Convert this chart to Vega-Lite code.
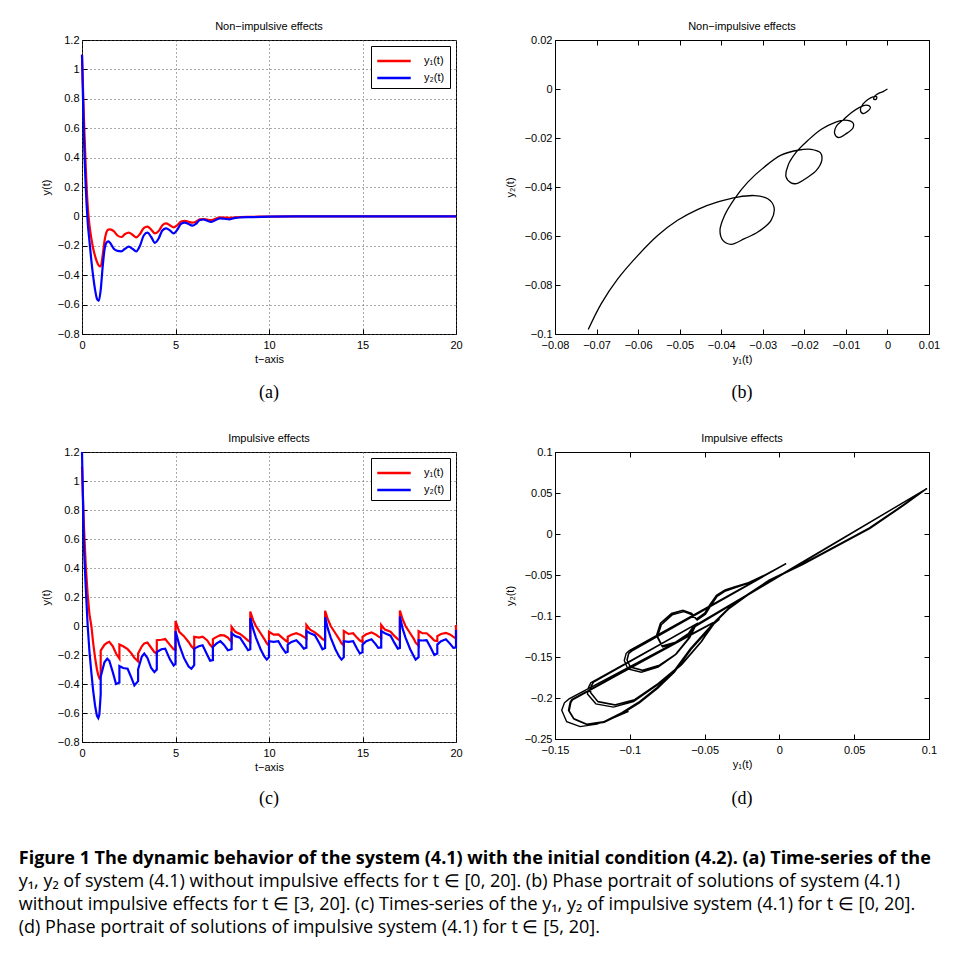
{
  "$schema": "https://vega.github.io/schema/vega-lite/v6.json",
  "background": "white",
  "padding": {"left": 18, "top": 20, "right": 0, "bottom": 0},
  "columns": 2,
  "bounds": "flush",
  "spacing": {"row": 20, "column": 99},
  "resolve": {"scale": {"color": "independent"}},
  "title": {
    "text": ["Figure 1  The dynamic behavior of the system (4.1) with the initial condition (4.2). (a) Time-series of the"],
    "subtitle": ["y₁, y₂ of system (4.1) without impulsive effects for t ∈ [0, 20]. (b) Phase portrait of solutions of system (4.1)", "without impulsive effects for t ∈ [3, 20]. (c) Times-series of the y₁, y₂ of impulsive system (4.1) for t ∈ [0, 20].", "(d) Phase portrait of solutions of impulsive system (4.1) for t ∈ [5, 20]."],
    "orient": "bottom", "anchor": "start", "frame": "bounds", "dx": -21, "offset": 14,
    "font": "Open Sans", "fontSize": 18, "fontWeight": "bold", "color": "black", "lineHeight": 23,
    "subtitleFont": "Open Sans", "subtitleFontSize": 18, "subtitleFontWeight": "normal", "subtitleColor": "black", "subtitleLineHeight": 23, "subtitlePadding": 5
  },
  "config": {
    "view": {"stroke": "black", "strokeWidth": 1},
    "font": "Liberation Sans",
    "axis": {"labelFont": "Liberation Sans", "labelFontSize": 11, "labelColor": "black", "titleFont": "Liberation Sans", "titleFontSize": 11, "titleFontWeight": "normal", "titleColor": "black", "domain": false, "tickColor": "black", "tickSize": -5, "labelPadding": 8, "labelFlush": false, "labelOverlap": false, "labelBound": false, "gridColor": "#555555", "gridDash": [1, 3], "gridOpacity": 1, "titlePadding": 4, "labelExpr": "format(datum.value, '~g')"},
    "axisX": {"labelPadding": 10, "titlePadding": 3},
    "axisY": {"titlePadding": 6},
    "title": {"font": "Liberation Sans", "fontSize": 11, "fontWeight": "normal", "color": "black", "offset": 2},
    "legend": {"orient": "top-right", "offset": 6, "strokeColor": "black", "fillColor": "white", "padding": 5, "labelFont": "Liberation Sans", "labelFontSize": 11, "labelColor": "black", "symbolType": "M-2,0L2,0", "symbolSize": 280, "symbolStrokeWidth": 2.5, "symbolOffset": 8, "labelOffset": 20, "rowPadding": 2, "cornerRadius": 0}
  },
  "concat": [
    {
      "width": 374, "height": 294,
      "title": "Non−impulsive effects",
      "data": {"values": [
        {"i":0,"t":0,"y1":1.1,"y2":1.1},{"i":1,"t":0.1,"y1":0.68,"y2":0.55},{"i":2,"t":0.2,"y1":0.34,"y2":0.2},{"i":3,"t":0.3,"y1":0.08,"y2":-0.03},{"i":4,"t":0.4,"y1":-0.06,"y2":-0.17},{"i":5,"t":0.5,"y1":-0.15,"y2":-0.3},{"i":6,"t":0.6,"y1":-0.22,"y2":-0.41},{"i":7,"t":0.7,"y1":-0.27,"y2":-0.5},{"i":8,"t":0.8,"y1":-0.31,"y2":-0.56},{"i":9,"t":0.9,"y1":-0.335,"y2":-0.575},{"i":10,"t":1.0,"y1":-0.34,"y2":-0.5},{"i":11,"t":1.1,"y1":-0.27,"y2":-0.35},{"i":12,"t":1.2,"y1":-0.17,"y2":-0.23},{"i":13,"t":1.3,"y1":-0.11,"y2":-0.18},{"i":14,"t":1.4,"y1":-0.09,"y2":-0.17},{"i":15,"t":1.5,"y1":-0.088,"y2":-0.18},{"i":16,"t":1.7,"y1":-0.1,"y2":-0.22},{"i":17,"t":1.9,"y1":-0.13,"y2":-0.235},{"i":18,"t":2.1,"y1":-0.14,"y2":-0.238},{"i":19,"t":2.3,"y1":-0.12,"y2":-0.22},{"i":20,"t":2.5,"y1":-0.11,"y2":-0.206},{"i":21,"t":2.7,"y1":-0.125,"y2":-0.22},{"i":22,"t":2.9,"y1":-0.143,"y2":-0.238},{"i":23,"t":3.1,"y1":-0.12,"y2":-0.2},{"i":24,"t":3.3,"y1":-0.08,"y2":-0.13},{"i":25,"t":3.5,"y1":-0.07,"y2":-0.11},{"i":26,"t":3.7,"y1":-0.09,"y2":-0.14},{"i":27,"t":3.9,"y1":-0.115,"y2":-0.18},{"i":28,"t":4.1,"y1":-0.1,"y2":-0.15},{"i":29,"t":4.3,"y1":-0.06,"y2":-0.095},{"i":30,"t":4.5,"y1":-0.048,"y2":-0.082},{"i":31,"t":4.7,"y1":-0.06,"y2":-0.095},{"i":32,"t":4.9,"y1":-0.075,"y2":-0.115},{"i":33,"t":5.1,"y1":-0.06,"y2":-0.09},{"i":34,"t":5.3,"y1":-0.035,"y2":-0.05},{"i":35,"t":5.5,"y1":-0.03,"y2":-0.043},{"i":36,"t":5.7,"y1":-0.036,"y2":-0.052},{"i":37,"t":5.9,"y1":-0.043,"y2":-0.063},{"i":38,"t":6.1,"y1":-0.035,"y2":-0.05},{"i":39,"t":6.3,"y1":-0.02,"y2":-0.025},{"i":40,"t":6.5,"y1":-0.018,"y2":-0.021},{"i":41,"t":6.7,"y1":-0.022,"y2":-0.03},{"i":42,"t":6.9,"y1":-0.025,"y2":-0.038},{"i":43,"t":7.1,"y1":-0.018,"y2":-0.028},{"i":44,"t":7.4,"y1":-0.007,"y2":-0.013},{"i":45,"t":7.6,"y1":-0.008,"y2":-0.016},{"i":46,"t":7.9,"y1":-0.01,"y2":-0.02},{"i":47,"t":8.2,"y1":-0.006,"y2":-0.01},{"i":48,"t":8.5,"y1":-0.004,"y2":-0.007},{"i":49,"t":9,"y1":-0.003,"y2":-0.005},{"i":50,"t":10,"y1":-0.001,"y2":-0.002},{"i":51,"t":12,"y1":0,"y2":0},{"i":52,"t":20,"y1":0,"y2":0}
      ]},
      "transform": [{"fold": ["y1", "y2"], "as": ["s", "v"]}],
      "mark": {"type": "line", "strokeWidth": 2.2, "interpolate": "monotone"},
      "encoding": {
        "x": {"field": "t", "type": "quantitative", "scale": {"domain": [0, 20], "nice": false}, "axis": {"values": [0, 5, 10, 15, 20], "title": "t−axis", "grid": true}},
        "y": {"field": "v", "type": "quantitative", "scale": {"domain": [-0.8, 1.2], "nice": false, "zero": false}, "axis": {"values": [-0.8, -0.6, -0.4, -0.2, 0, 0.2, 0.4, 0.6, 0.8, 1, 1.2], "title": "y(t)", "grid": true}},
        "color": {"field": "s", "type": "nominal", "scale": {"domain": ["y1", "y2"], "range": ["#ff0000", "#0000ff"]}, "legend": {"title": null, "labelExpr": "datum.label == 'y1' ? 'y₁(t)' : 'y₂(t)'"}},
        "order": {"field": "i", "type": "quantitative"}
      }
    },
    {
      "width": 374, "height": 294,
      "title": "Non−impulsive effects",
      "data": {"values": [
        {"i":0,"y1":-0.072,"y2":-0.0982},{"i":1,"y1":-0.0689,"y2":-0.0877},{"i":2,"y1":-0.0649,"y2":-0.0775},{"i":3,"y1":-0.0601,"y2":-0.068},{"i":4,"y1":-0.0553,"y2":-0.0598},{"i":5,"y1":-0.0505,"y2":-0.0536},{"i":6,"y1":-0.0456,"y2":-0.0491},{"i":7,"y1":-0.0408,"y2":-0.0461},{"i":8,"y1":-0.036,"y2":-0.0441},{"i":9,"y1":-0.032,"y2":-0.0435},{"i":10,"y1":-0.0288,"y2":-0.0448},{"i":11,"y1":-0.0273,"y2":-0.0482},{"i":12,"y1":-0.028,"y2":-0.0536},{"i":13,"y1":-0.0312,"y2":-0.0584},{"i":14,"y1":-0.0344,"y2":-0.0611},{"i":15,"y1":-0.0376,"y2":-0.0634},{"i":16,"y1":-0.0396,"y2":-0.0618},{"i":17,"y1":-0.0403,"y2":-0.0577},{"i":18,"y1":-0.0392,"y2":-0.0516},{"i":19,"y1":-0.0368,"y2":-0.0448},{"i":20,"y1":-0.0336,"y2":-0.038},{"i":21,"y1":-0.0296,"y2":-0.0318},{"i":22,"y1":-0.0256,"y2":-0.027},{"i":23,"y1":-0.0216,"y2":-0.025},{"i":24,"y1":-0.0184,"y2":-0.0246},{"i":25,"y1":-0.0161,"y2":-0.0261},{"i":26,"y1":-0.0158,"y2":-0.0291},{"i":27,"y1":-0.0171,"y2":-0.0332},{"i":28,"y1":-0.0191,"y2":-0.0359},{"i":29,"y1":-0.0219,"y2":-0.0386},{"i":30,"y1":-0.0232,"y2":-0.0383},{"i":31,"y1":-0.0244,"y2":-0.0359},{"i":32,"y1":-0.0239,"y2":-0.0311},{"i":33,"y1":-0.0219,"y2":-0.0257},{"i":34,"y1":-0.0191,"y2":-0.0209},{"i":35,"y1":-0.0159,"y2":-0.0164},{"i":36,"y1":-0.0127,"y2":-0.0137},{"i":37,"y1":-0.0103,"y2":-0.0127},{"i":38,"y1":-0.0083,"y2":-0.0138},{"i":39,"y1":-0.0083,"y2":-0.0159},{"i":40,"y1":-0.0099,"y2":-0.0182},{"i":41,"y1":-0.0118,"y2":-0.0198},{"i":42,"y1":-0.0127,"y2":-0.0182},{"i":43,"y1":-0.0123,"y2":-0.0152},{"i":44,"y1":-0.0107,"y2":-0.0127},{"i":45,"y1":-0.0087,"y2":-0.0097},{"i":46,"y1":-0.0067,"y2":-0.0075},{"i":47,"y1":-0.0051,"y2":-0.0066},{"i":48,"y1":-0.0041,"y2":-0.0075},{"i":49,"y1":-0.0047,"y2":-0.009},{"i":50,"y1":-0.0059,"y2":-0.01},{"i":51,"y1":-0.0065,"y2":-0.0086},{"i":52,"y1":-0.0059,"y2":-0.0062},{"i":53,"y1":-0.0047,"y2":-0.0043},{"i":54,"y1":-0.0035,"y2":-0.0032},{"i":55,"y1":-0.0026,"y2":-0.0031},{"i":56,"y1":-0.0027,"y2":-0.0042},{"i":57,"y1":-0.0033,"y2":-0.0041},{"i":58,"y1":-0.003,"y2":-0.0028},{"i":59,"y1":-0.0019,"y2":-0.0016},{"i":60,"y1":-0.0012,"y2":-0.0012},{"i":61,"y1":-0.0007,"y2":-0.0007},{"i":62,"y1":0,"y2":0}
      ]},
      "layer": [
        {
          "mark": {"type": "line", "color": "black", "strokeWidth": 1.3, "interpolate": "catmull-rom"},
          "encoding": {
            "x": {"field": "y1", "type": "quantitative", "scale": {"domain": [-0.08, 0.01], "nice": false, "zero": false}, "axis": {"values": [-0.08, -0.07, -0.06, -0.05, -0.04, -0.03, -0.02, -0.01, 0, 0.01], "title": "y₁(t)", "grid": false}},
            "y": {"field": "y2", "type": "quantitative", "scale": {"domain": [-0.1, 0.02], "nice": false, "zero": false}, "axis": {"values": [-0.1, -0.08, -0.06, -0.04, -0.02, 0, 0.02], "title": "y₂(t)", "grid": false, "titlePadding": 9}},
            "order": {"field": "i", "type": "quantitative"}
          }
        },
        {
          "mark": {"type": "line", "opacity": 0},
          "encoding": {
            "x": {"field": "y1", "type": "quantitative", "axis": {"orient": "top", "values": [-0.08, -0.07, -0.06, -0.05, -0.04, -0.03, -0.02, -0.01, 0, 0.01], "labels": false, "title": null, "grid": false}},
            "y": {"field": "y2", "type": "quantitative", "axis": {"orient": "right", "values": [-0.1, -0.08, -0.06, -0.04, -0.02, 0, 0.02], "labels": false, "title": null, "grid": false}},
            "order": {"field": "i", "type": "quantitative"}
          }
        }
      ],
      "resolve": {"axis": {"x": "independent", "y": "independent"}}
    },
    {
      "width": 374, "height": 78, "view": {"stroke": null},
      "data": {"values": [{"lab": "(a)"}]},
      "mark": {"type": "text", "font": "Liberation Serif", "fontSize": 18, "color": "black"},
      "encoding": {"text": {"field": "lab"}}
    },
    {
      "width": 374, "height": 78, "view": {"stroke": null},
      "data": {"values": [{"lab": "(b)"}]},
      "mark": {"type": "text", "font": "Liberation Serif", "fontSize": 18, "color": "black"},
      "encoding": {"text": {"field": "lab"}}
    },
    {
      "width": 374, "height": 290,
      "title": "Impulsive effects",
      "data": {"values": [
        {"i":0,"t":0,"y1":1.1,"y2":1.2},{"i":1,"t":0.1,"y1":0.7,"y2":0.55},{"i":2,"t":0.2,"y1":0.42,"y2":0.27},{"i":3,"t":0.3,"y1":0.22,"y2":0.01},{"i":4,"t":0.4,"y1":0.08,"y2":-0.18},{"i":5,"t":0.5,"y1":0.0,"y2":-0.32},{"i":6,"t":0.6,"y1":-0.12,"y2":-0.45},{"i":7,"t":0.7,"y1":-0.22,"y2":-0.55},{"i":8,"t":0.8,"y1":-0.3,"y2":-0.62},{"i":9,"t":0.87,"y1":-0.34,"y2":-0.635},{"i":10,"t":0.93,"y1":-0.36,"y2":-0.61},{"i":11,"t":1.0,"y1":-0.35,"y2":-0.47},{"i":12,"t":1.0,"y1":-0.17,"y2":-0.35},
        {"i":13,"t":1.2,"y1":-0.13,"y2":-0.25},{"i":14,"t":1.35,"y1":-0.115,"y2":-0.225},{"i":15,"t":1.46,"y1":-0.109,"y2":-0.24},{"i":16,"t":1.65,"y1":-0.14,"y2":-0.32},{"i":17,"t":1.82,"y1":-0.19,"y2":-0.4},{"i":18,"t":2.0,"y1":-0.225,"y2":-0.39},{"i":19,"t":2.0,"y1":-0.128,"y2":-0.276},
        {"i":20,"t":2.2,"y1":-0.14,"y2":-0.29},{"i":21,"t":2.44,"y1":-0.16,"y2":-0.295},{"i":22,"t":2.65,"y1":-0.19,"y2":-0.36},{"i":23,"t":2.8,"y1":-0.22,"y2":-0.41},{"i":24,"t":3.0,"y1":-0.244,"y2":-0.38},{"i":25,"t":3.0,"y1":-0.19,"y2":-0.3},
        {"i":26,"t":3.2,"y1":-0.14,"y2":-0.21},{"i":27,"t":3.33,"y1":-0.12,"y2":-0.19},{"i":28,"t":3.5,"y1":-0.114,"y2":-0.22},{"i":29,"t":3.7,"y1":-0.15,"y2":-0.29},{"i":30,"t":3.87,"y1":-0.18,"y2":-0.318},{"i":31,"t":4.0,"y1":-0.19,"y2":-0.3},{"i":32,"t":4.0,"y1":-0.098,"y2":-0.179},
        {"i":33,"t":4.25,"y1":-0.095,"y2":-0.16},{"i":34,"t":4.45,"y1":-0.09,"y2":-0.156},{"i":35,"t":4.7,"y1":-0.13,"y2":-0.23},{"i":36,"t":4.9,"y1":-0.16,"y2":-0.272},{"i":37,"t":5.0,"y1":-0.165,"y2":-0.26},{"i":38,"t":5.0,"y1":0.035,"y2":-0.035},
        {"i":39,"t":5.2,"y1":-0.04,"y2":-0.13},{"i":40,"t":5.45,"y1":-0.07,"y2":-0.22},{"i":41,"t":5.7,"y1":-0.11,"y2":-0.28},{"i":42,"t":5.85,"y1":-0.14,"y2":-0.295},{"i":43,"t":6.0,"y1":-0.16,"y2":-0.27},{"i":44,"t":6.0,"y1":-0.074,"y2":-0.156},
        {"i":45,"t":6.25,"y1":-0.08,"y2":-0.14},{"i":46,"t":6.45,"y1":-0.074,"y2":-0.133},{"i":47,"t":6.7,"y1":-0.1,"y2":-0.2},{"i":48,"t":6.85,"y1":-0.13,"y2":-0.24},{"i":49,"t":7.0,"y1":-0.15,"y2":-0.235},{"i":50,"t":7.0,"y1":-0.09,"y2":-0.144},
        {"i":51,"t":7.2,"y1":-0.075,"y2":-0.12},{"i":52,"t":7.4,"y1":-0.063,"y2":-0.105},{"i":53,"t":7.6,"y1":-0.065,"y2":-0.13},{"i":54,"t":7.8,"y1":-0.08,"y2":-0.167},{"i":55,"t":8.0,"y1":-0.11,"y2":-0.16},{"i":56,"t":8.0,"y1":-0.005,"y2":-0.05},
        {"i":57,"t":8.2,"y1":-0.04,"y2":-0.07},{"i":58,"t":8.45,"y1":-0.055,"y2":-0.081},{"i":59,"t":8.7,"y1":-0.08,"y2":-0.13},{"i":60,"t":8.88,"y1":-0.1,"y2":-0.167},{"i":61,"t":9.0,"y1":-0.11,"y2":-0.16},{"i":62,"t":9.0,"y1":0.1,"y2":0.055},
        {"i":63,"t":9.15,"y1":0.04,"y2":-0.02},{"i":64,"t":9.3,"y1":0.0,"y2":-0.08},{"i":65,"t":9.55,"y1":-0.05,"y2":-0.16},{"i":66,"t":9.75,"y1":-0.09,"y2":-0.21},{"i":67,"t":9.88,"y1":-0.12,"y2":-0.232},{"i":68,"t":10.0,"y1":-0.135,"y2":-0.215},{"i":69,"t":10.0,"y1":-0.04,"y2":-0.105},
        {"i":70,"t":10.25,"y1":-0.06,"y2":-0.11},{"i":71,"t":10.5,"y1":-0.058,"y2":-0.105},{"i":72,"t":10.7,"y1":-0.08,"y2":-0.15},{"i":73,"t":10.89,"y1":-0.1,"y2":-0.184},{"i":74,"t":11.0,"y1":-0.11,"y2":-0.178},{"i":75,"t":11.0,"y1":-0.074,"y2":-0.128},
        {"i":76,"t":11.2,"y1":-0.06,"y2":-0.11},{"i":77,"t":11.46,"y1":-0.05,"y2":-0.098},{"i":78,"t":11.7,"y1":-0.062,"y2":-0.13},{"i":79,"t":11.86,"y1":-0.075,"y2":-0.156},{"i":80,"t":12.0,"y1":-0.086,"y2":-0.15},{"i":81,"t":12.0,"y1":0.007,"y2":-0.035},
        {"i":82,"t":12.2,"y1":-0.025,"y2":-0.05},{"i":83,"t":12.45,"y1":-0.044,"y2":-0.063},{"i":84,"t":12.7,"y1":-0.07,"y2":-0.12},{"i":85,"t":12.86,"y1":-0.09,"y2":-0.16},{"i":86,"t":13.0,"y1":-0.1,"y2":-0.152},{"i":87,"t":13.0,"y1":0.105,"y2":0.06},
        {"i":88,"t":13.15,"y1":0.045,"y2":-0.02},{"i":89,"t":13.3,"y1":0.0,"y2":-0.08},{"i":90,"t":13.55,"y1":-0.05,"y2":-0.16},{"i":91,"t":13.75,"y1":-0.09,"y2":-0.21},{"i":92,"t":13.88,"y1":-0.12,"y2":-0.232},{"i":93,"t":14.0,"y1":-0.135,"y2":-0.215},{"i":94,"t":14.0,"y1":-0.035,"y2":-0.105},
        {"i":95,"t":14.25,"y1":-0.055,"y2":-0.11},{"i":96,"t":14.5,"y1":-0.05,"y2":-0.105},{"i":97,"t":14.7,"y1":-0.08,"y2":-0.155},{"i":98,"t":14.86,"y1":-0.1,"y2":-0.19},{"i":99,"t":15.0,"y1":-0.11,"y2":-0.18},{"i":100,"t":15.0,"y1":-0.074,"y2":-0.128},
        {"i":101,"t":15.2,"y1":-0.057,"y2":-0.105},{"i":102,"t":15.48,"y1":-0.044,"y2":-0.091},{"i":103,"t":15.7,"y1":-0.058,"y2":-0.125},{"i":104,"t":15.84,"y1":-0.072,"y2":-0.151},{"i":105,"t":16.0,"y1":-0.083,"y2":-0.148},{"i":106,"t":16.0,"y1":0.007,"y2":-0.035},
        {"i":107,"t":16.2,"y1":-0.025,"y2":-0.05},{"i":108,"t":16.5,"y1":-0.04,"y2":-0.067},{"i":109,"t":16.7,"y1":-0.068,"y2":-0.115},{"i":110,"t":16.89,"y1":-0.09,"y2":-0.156},{"i":111,"t":17.0,"y1":-0.1,"y2":-0.152},{"i":112,"t":17.0,"y1":0.107,"y2":0.065},
        {"i":113,"t":17.15,"y1":0.045,"y2":-0.02},{"i":114,"t":17.3,"y1":0.0,"y2":-0.08},{"i":115,"t":17.55,"y1":-0.05,"y2":-0.16},{"i":116,"t":17.75,"y1":-0.09,"y2":-0.21},{"i":117,"t":17.84,"y1":-0.115,"y2":-0.232},{"i":118,"t":18.0,"y1":-0.135,"y2":-0.215},{"i":119,"t":18.0,"y1":-0.035,"y2":-0.098},
        {"i":120,"t":18.2,"y1":-0.05,"y2":-0.1},{"i":121,"t":18.43,"y1":-0.05,"y2":-0.098},{"i":122,"t":18.65,"y1":-0.075,"y2":-0.15},{"i":123,"t":18.84,"y1":-0.1,"y2":-0.2},{"i":124,"t":19.0,"y1":-0.105,"y2":-0.19},{"i":125,"t":19.0,"y1":-0.07,"y2":-0.128},
        {"i":126,"t":19.2,"y1":-0.055,"y2":-0.105},{"i":127,"t":19.46,"y1":-0.047,"y2":-0.091},{"i":128,"t":19.7,"y1":-0.06,"y2":-0.125},{"i":129,"t":19.86,"y1":-0.075,"y2":-0.151},{"i":130,"t":20.0,"y1":-0.086,"y2":-0.148},{"i":131,"t":20.0,"y1":0.007,"y2":-0.028}
      ]},
      "transform": [{"fold": ["y1", "y2"], "as": ["s", "v"]}],
      "mark": {"type": "line", "strokeWidth": 2.2},
      "encoding": {
        "x": {"field": "t", "type": "quantitative", "scale": {"domain": [0, 20], "nice": false}, "axis": {"values": [0, 5, 10, 15, 20], "title": "t−axis", "grid": true}},
        "y": {"field": "v", "type": "quantitative", "scale": {"domain": [-0.8, 1.2], "nice": false, "zero": false}, "axis": {"values": [-0.8, -0.6, -0.4, -0.2, 0, 0.2, 0.4, 0.6, 0.8, 1, 1.2], "title": "y(t)", "grid": true}},
        "color": {"field": "s", "type": "nominal", "scale": {"domain": ["y1", "y2"], "range": ["#ff0000", "#0000ff"]}, "legend": {"title": null, "labelExpr": "datum.label == 'y1' ? 'y₁(t)' : 'y₂(t)'"}},
        "order": {"field": "i", "type": "quantitative"}
      }
    },
    {
      "width": 374, "height": 287,
      "title": "Impulsive effects",
      "data": {"values": [
        {"i":0,"y1":-0.1008,"y2":-0.2163},{"i":1,"y1":-0.1109,"y2":-0.2242},{"i":2,"y1":-0.1220,"y2":-0.2318},{"i":3,"y1":-0.1332,"y2":-0.2349},{"i":4,"y1":-0.1422,"y2":-0.2290},{"i":5,"y1":-0.1455,"y2":-0.2150},{"i":6,"y1":-0.1437,"y2":-0.2059},{"i":7,"y1":-0.1406,"y2":-0.2011},
        {"i":8,"y1":-0.0400,"y2":-0.1038},
        {"i":9,"y1":-0.0438,"y2":-0.1098},{"i":10,"y1":-0.0527,"y2":-0.1324},{"i":11,"y1":-0.0661,"y2":-0.1606},{"i":12,"y1":-0.0818,"y2":-0.1844},{"i":13,"y1":-0.0975,"y2":-0.2043},{"i":14,"y1":-0.1109,"y2":-0.2111},{"i":15,"y1":-0.1227,"y2":-0.2071},{"i":16,"y1":-0.1283,"y2":-0.1952},{"i":17,"y1":-0.1276,"y2":-0.1872},{"i":18,"y1":-0.1261,"y2":-0.1813},
        {"i":19,"y1":-0.0561,"y2":-0.1106},
        {"i":20,"y1":-0.0610,"y2":-0.1276},{"i":21,"y1":-0.0699,"y2":-0.1479},{"i":22,"y1":-0.0811,"y2":-0.1622},{"i":23,"y1":-0.0923,"y2":-0.1686},{"i":24,"y1":-0.1013,"y2":-0.1646},{"i":25,"y1":-0.1037,"y2":-0.1543},{"i":26,"y1":-0.1024,"y2":-0.1455},{"i":27,"y1":-0.1003,"y2":-0.1423},
        {"i":28,"y1":0.0043,"y2":-0.0362},
        {"i":29,"y1":-0.0091,"y2":-0.0495},{"i":30,"y1":-0.0214,"y2":-0.0605},{"i":31,"y1":-0.0293,"y2":-0.0655},{"i":32,"y1":-0.0360,"y2":-0.0695},{"i":33,"y1":-0.0416,"y2":-0.0760},{"i":34,"y1":-0.0460,"y2":-0.0879},{"i":35,"y1":-0.0494,"y2":-0.0979},{"i":36,"y1":-0.0550,"y2":-0.1050},{"i":37,"y1":-0.0583,"y2":-0.0987},{"i":38,"y1":-0.0639,"y2":-0.0947},{"i":39,"y1":-0.0717,"y2":-0.0987},{"i":40,"y1":-0.0789,"y2":-0.1106},{"i":41,"y1":-0.0815,"y2":-0.1249},{"i":42,"y1":-0.0780,"y2":-0.1376},{"i":43,"y1":-0.0690,"y2":-0.1329},{"i":44,"y1":-0.0606,"y2":-0.1225},{"i":45,"y1":-0.0572,"y2":-0.1138},
        {"i":46,"y1":0.0982,"y2":0.0551},
        {"i":47,"y1":0.0826,"y2":0.0352},{"i":48,"y1":0.0602,"y2":0.0074},{"i":49,"y1":0.0379,"y2":-0.0144},{"i":50,"y1":0.0155,"y2":-0.0363},{"i":51,"y1":-0.0069,"y2":-0.0562},{"i":52,"y1":-0.0215,"y2":-0.0740},{"i":53,"y1":-0.0337,"y2":-0.0899},{"i":54,"y1":-0.0438,"y2":-0.1078},{"i":55,"y1":-0.0516,"y2":-0.1237},{"i":56,"y1":-0.0594,"y2":-0.1396},{"i":57,"y1":-0.0706,"y2":-0.1674},{"i":58,"y1":-0.0818,"y2":-0.1872},{"i":59,"y1":-0.0941,"y2":-0.2051},{"i":60,"y1":-0.1053,"y2":-0.2178},{"i":61,"y1":-0.1176,"y2":-0.2290},{"i":62,"y1":-0.1288,"y2":-0.2318},{"i":63,"y1":-0.1377,"y2":-0.2250},{"i":64,"y1":-0.1410,"y2":-0.2150},{"i":65,"y1":-0.1399,"y2":-0.2051},{"i":66,"y1":-0.1388,"y2":-0.2019},
        {"i":67,"y1":-0.0402,"y2":-0.1040},
        {"i":68,"y1":-0.0442,"y2":-0.1090},{"i":69,"y1":-0.0522,"y2":-0.1309},{"i":70,"y1":-0.0654,"y2":-0.1587},{"i":71,"y1":-0.0811,"y2":-0.1825},{"i":72,"y1":-0.0968,"y2":-0.2019},{"i":73,"y1":-0.1102,"y2":-0.2083},{"i":74,"y1":-0.1214,"y2":-0.2043},{"i":75,"y1":-0.1263,"y2":-0.1932},{"i":76,"y1":-0.1259,"y2":-0.1853},{"i":77,"y1":-0.1243,"y2":-0.1805},
        {"i":78,"y1":-0.0556,"y2":-0.1098},
        {"i":79,"y1":-0.0601,"y2":-0.1265},{"i":80,"y1":-0.0691,"y2":-0.1464},{"i":81,"y1":-0.0802,"y2":-0.1599},{"i":82,"y1":-0.0914,"y2":-0.1662},{"i":83,"y1":-0.0997,"y2":-0.1622},{"i":84,"y1":-0.1019,"y2":-0.1535},{"i":85,"y1":-0.1008,"y2":-0.1455},{"i":86,"y1":-0.0986,"y2":-0.1423},
        {"i":87,"y1":0.0043,"y2":-0.0362},
        {"i":88,"y1":-0.0091,"y2":-0.0494},{"i":89,"y1":-0.0214,"y2":-0.0600},{"i":90,"y1":-0.0297,"y2":-0.0645},{"i":91,"y1":-0.0364,"y2":-0.0685},{"i":92,"y1":-0.0422,"y2":-0.0749},{"i":93,"y1":-0.0467,"y2":-0.0868},{"i":94,"y1":-0.0498,"y2":-0.0963},{"i":95,"y1":-0.0556,"y2":-0.1038},{"i":96,"y1":-0.0587,"y2":-0.0971},{"i":97,"y1":-0.0646,"y2":-0.0932},{"i":98,"y1":-0.0722,"y2":-0.0971},{"i":99,"y1":-0.0796,"y2":-0.1090},{"i":100,"y1":-0.0822,"y2":-0.1241},{"i":101,"y1":-0.0784,"y2":-0.1368},{"i":102,"y1":-0.0695,"y2":-0.1321},{"i":103,"y1":-0.0610,"y2":-0.1217},{"i":104,"y1":-0.0577,"y2":-0.1130},
        {"i":105,"y1":0.0985,"y2":0.0553},
        {"i":106,"y1":0.0828,"y2":0.0350},{"i":107,"y1":0.0604,"y2":0.0070},{"i":108,"y1":0.0380,"y2":-0.0148},{"i":109,"y1":0.0156,"y2":-0.0367},{"i":110,"y1":-0.0068,"y2":-0.0566},{"i":111,"y1":-0.0214,"y2":-0.0745},{"i":112,"y1":-0.0336,"y2":-0.0905},{"i":113,"y1":-0.0437,"y2":-0.1085},{"i":114,"y1":-0.0514,"y2":-0.1245},{"i":115,"y1":-0.0592,"y2":-0.1405},{"i":116,"y1":-0.0703,"y2":-0.1682},{"i":117,"y1":-0.0815,"y2":-0.1880},{"i":118,"y1":-0.0938,"y2":-0.2058},{"i":119,"y1":-0.1050,"y2":-0.2185},{"i":120,"y1":-0.1173,"y2":-0.2296},{"i":121,"y1":-0.1285,"y2":-0.2324},{"i":122,"y1":-0.1374,"y2":-0.2256},{"i":123,"y1":-0.1407,"y2":-0.2155},{"i":124,"y1":-0.1396,"y2":-0.2055},{"i":125,"y1":-0.1385,"y2":-0.2022},
        {"i":126,"y1":-0.0400,"y2":-0.1040},
        {"i":127,"y1":-0.0440,"y2":-0.1092},{"i":128,"y1":-0.0520,"y2":-0.1312},{"i":129,"y1":-0.0652,"y2":-0.1590},{"i":130,"y1":-0.0809,"y2":-0.1828},{"i":131,"y1":-0.0966,"y2":-0.2022},{"i":132,"y1":-0.1100,"y2":-0.2086},{"i":133,"y1":-0.1212,"y2":-0.2046},{"i":134,"y1":-0.1262,"y2":-0.1934},{"i":135,"y1":-0.1258,"y2":-0.1855},{"i":136,"y1":-0.1242,"y2":-0.1807},
        {"i":137,"y1":-0.0555,"y2":-0.1100},
        {"i":138,"y1":-0.0600,"y2":-0.1268},{"i":139,"y1":-0.0690,"y2":-0.1467},{"i":140,"y1":-0.0801,"y2":-0.1602},{"i":141,"y1":-0.0913,"y2":-0.1665},{"i":142,"y1":-0.0996,"y2":-0.1625},{"i":143,"y1":-0.1018,"y2":-0.1538},{"i":144,"y1":-0.1007,"y2":-0.1458},{"i":145,"y1":-0.0985,"y2":-0.1426},
        {"i":146,"y1":0.0045,"y2":-0.0360},
        {"i":147,"y1":-0.0090,"y2":-0.0492},{"i":148,"y1":-0.0213,"y2":-0.0598},{"i":149,"y1":-0.0296,"y2":-0.0643},{"i":150,"y1":-0.0363,"y2":-0.0683},{"i":151,"y1":-0.0421,"y2":-0.0747},{"i":152,"y1":-0.0466,"y2":-0.0866},{"i":153,"y1":-0.0497,"y2":-0.0961},{"i":154,"y1":-0.0555,"y2":-0.1036},{"i":155,"y1":-0.0586,"y2":-0.0969},{"i":156,"y1":-0.0645,"y2":-0.0930},{"i":157,"y1":-0.0721,"y2":-0.0969},{"i":158,"y1":-0.0795,"y2":-0.1088},{"i":159,"y1":-0.0821,"y2":-0.1239},{"i":160,"y1":-0.0783,"y2":-0.1366},{"i":161,"y1":-0.0694,"y2":-0.1319},{"i":162,"y1":-0.0609,"y2":-0.1215},{"i":163,"y1":-0.0576,"y2":-0.1128},
        {"i":164,"y1":0.0987,"y2":0.0555},
        {"i":165,"y1":0.0830,"y2":0.0348},{"i":166,"y1":0.0606,"y2":0.0068},{"i":167,"y1":0.0382,"y2":-0.0150},{"i":168,"y1":0.0158,"y2":-0.0369},{"i":169,"y1":-0.0066,"y2":-0.0568},{"i":170,"y1":-0.0212,"y2":-0.0747},{"i":171,"y1":-0.0334,"y2":-0.0907},{"i":172,"y1":-0.0435,"y2":-0.1087},{"i":173,"y1":-0.0512,"y2":-0.1247},{"i":174,"y1":-0.0590,"y2":-0.1407},{"i":175,"y1":-0.0701,"y2":-0.1684},{"i":176,"y1":-0.0813,"y2":-0.1882},{"i":177,"y1":-0.0936,"y2":-0.2060},{"i":178,"y1":-0.1048,"y2":-0.2187},{"i":179,"y1":-0.1171,"y2":-0.2298},{"i":180,"y1":-0.1283,"y2":-0.2326},{"i":181,"y1":-0.1372,"y2":-0.2258},{"i":182,"y1":-0.1405,"y2":-0.2157},{"i":183,"y1":-0.1394,"y2":-0.2057},{"i":184,"y1":-0.1383,"y2":-0.2024},
        {"i":185,"y1":-0.0401,"y2":-0.1039},
        {"i":186,"y1":-0.0441,"y2":-0.1091},{"i":187,"y1":-0.0521,"y2":-0.1310},{"i":188,"y1":-0.0653,"y2":-0.1588},{"i":189,"y1":-0.0810,"y2":-0.1826},{"i":190,"y1":-0.0967,"y2":-0.2020},{"i":191,"y1":-0.1101,"y2":-0.2084},{"i":192,"y1":-0.1213,"y2":-0.2044},{"i":193,"y1":-0.1262,"y2":-0.1933},{"i":194,"y1":-0.1258,"y2":-0.1854},{"i":195,"y1":-0.1242,"y2":-0.1806},
        {"i":196,"y1":-0.0556,"y2":-0.1099},
        {"i":197,"y1":-0.0600,"y2":-0.1266},{"i":198,"y1":-0.0690,"y2":-0.1465},{"i":199,"y1":-0.0801,"y2":-0.1600},{"i":200,"y1":-0.0913,"y2":-0.1663},{"i":201,"y1":-0.0996,"y2":-0.1623},{"i":202,"y1":-0.1018,"y2":-0.1536},{"i":203,"y1":-0.1007,"y2":-0.1456},{"i":204,"y1":-0.0985,"y2":-0.1424},
        {"i":205,"y1":0.0043,"y2":-0.0362}
      ]},
      "layer": [
        {
          "mark": {"type": "line", "color": "black", "strokeWidth": 1.4},
          "encoding": {
            "x": {"field": "y1", "type": "quantitative", "scale": {"domain": [-0.15, 0.1], "nice": false, "zero": false}, "axis": {"values": [-0.15, -0.1, -0.05, 0, 0.05, 0.1], "title": "y₁(t)", "grid": false}},
            "y": {"field": "y2", "type": "quantitative", "scale": {"domain": [-0.25, 0.1], "nice": false, "zero": false}, "axis": {"values": [-0.25, -0.2, -0.15, -0.1, -0.05, 0, 0.05, 0.1], "title": "y₂(t)", "grid": false, "titlePadding": 9}},
            "order": {"field": "i", "type": "quantitative"}
          }
        },
        {
          "mark": {"type": "line", "opacity": 0},
          "encoding": {
            "x": {"field": "y1", "type": "quantitative", "axis": {"orient": "top", "values": [-0.15, -0.1, -0.05, 0, 0.05, 0.1], "labels": false, "title": null, "grid": false}},
            "y": {"field": "y2", "type": "quantitative", "axis": {"orient": "right", "values": [-0.25, -0.2, -0.15, -0.1, -0.05, 0, 0.05, 0.1], "labels": false, "title": null, "grid": false}},
            "order": {"field": "i", "type": "quantitative"}
          }
        }
      ],
      "resolve": {"axis": {"x": "independent", "y": "independent"}}
    },
    {
      "width": 374, "height": 74, "view": {"stroke": null},
      "data": {"values": [{"lab": "(c)"}]},
      "mark": {"type": "text", "font": "Liberation Serif", "fontSize": 18, "color": "black"},
      "encoding": {"text": {"field": "lab"}}
    },
    {
      "width": 374, "height": 74, "view": {"stroke": null},
      "data": {"values": [{"lab": "(d)"}]},
      "mark": {"type": "text", "font": "Liberation Serif", "fontSize": 18, "color": "black"},
      "encoding": {"text": {"field": "lab"}}
    }
  ]
}
